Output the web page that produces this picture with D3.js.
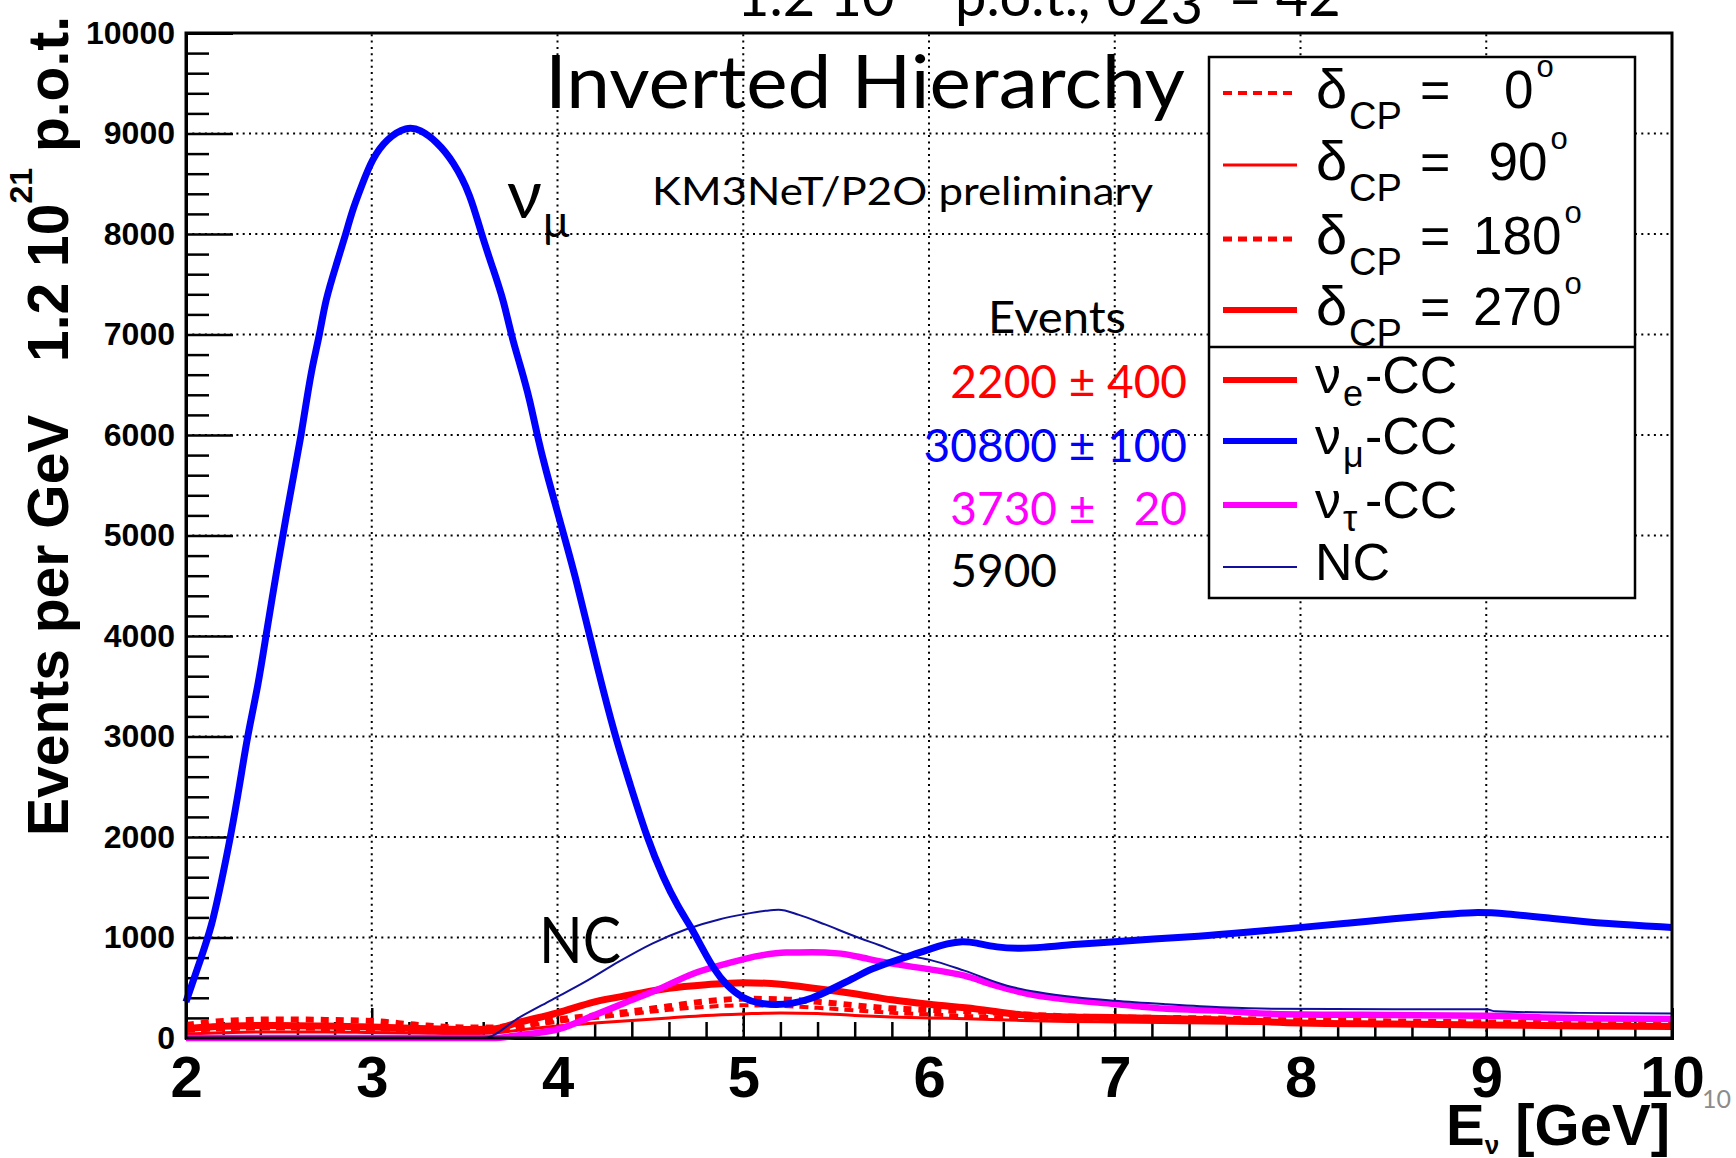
<!DOCTYPE html>
<html>
<head>
<meta charset="utf-8">
<script src="https://cdn.jsdelivr.net/npm/d3@7"></script>
<style>
  html, body { margin: 0; padding: 0; background: #fff; }
  svg { display: block; }
</style>
</head>
<body>
<script>
// ---- spectra: events per GeV vs neutrino energy [GeV] ----

// nu_mu CC
const numuE = [2.0, 2.08, 2.14, 2.19, 2.24, 2.29, 2.33, 2.39, 2.43, 2.49, 2.54, 2.58, 2.62, 2.65, 2.68,
  2.72, 2.75, 2.81, 2.86, 2.90, 2.95, 3.0, 3.08, 3.19, 3.26, 3.35, 3.44, 3.53, 3.59, 3.65,
  3.71, 3.75, 3.80, 3.85, 3.89, 3.94, 3.99, 4.05, 4.10, 4.15, 4.21, 4.31, 4.39, 4.48, 4.57,
  4.65, 4.72, 4.78, 4.84, 4.91, 5.0, 5.09, 5.18, 5.26, 5.37, 5.48, 5.59, 5.69, 5.8, 5.91,
  6.01, 6.1, 6.18, 6.25, 6.36, 6.5, 6.6, 6.8, 7.0, 7.2, 7.45, 7.7, 8.0, 8.25, 8.5,
  8.75, 8.93, 9.1, 9.35, 9.65, 10.0];
const numuN = [360, 790, 1120, 1550, 2000, 2530, 3000, 3520, 4000, 4670, 5200, 5600, 6000, 6355, 6690,
  7000, 7340, 7700, 8000, 8260, 8500, 8740, 8950, 9070, 9040, 8920, 8720, 8400, 8000, 7670,
  7340, 7000, 6690, 6360, 6000, 5630, 5300, 4900, 4560, 4180, 3720, 3000, 2530, 2000, 1590,
  1300, 1100, 890, 690, 520, 390, 340, 330, 340, 390, 490, 590, 690, 760, 825,
  890, 940, 965, 950, 900, 890, 900, 935, 955, 985, 1010, 1050, 1100, 1140, 1190,
  1225, 1255, 1240, 1190, 1135, 1100];

// neutral current
const ncE = [2.0, 3.6, 3.8, 3.97, 4.15, 4.33, 4.51, 4.69, 4.87, 5.0, 5.12, 5.19, 5.3, 5.44, 5.59, 5.73,
  5.87, 6.0, 6.19, 6.42, 6.59, 6.79, 7.0, 7.28, 7.57, 7.85, 8.5, 9.0, 9.05, 9.5, 10.0];
const ncN = [0, 0, 210, 380, 560, 760, 940, 1080, 1180, 1230, 1265, 1275, 1225, 1130, 1020, 925,
  830, 780, 670, 520, 455, 405, 370, 335, 305, 290, 285, 285, 265, 250, 245];

// nu_tau CC
const nutauE = [2.0, 3.65, 3.8, 4.01, 4.19, 4.37, 4.55, 4.73, 4.91, 5.09, 5.23, 5.37, 5.51, 5.62, 5.73,
  5.87, 6.0, 6.19, 6.36, 6.53, 6.71, 7.0, 7.28, 7.57, 7.85, 8.5, 9.0, 9.3, 10.0];
const nutauN = [0, 0, 30, 90, 220, 355, 490, 640, 740, 820, 850, 852, 842, 808, 765,
  720, 685, 620, 520, 440, 390, 338, 290, 272, 240, 228, 222, 205, 190];

// nu_e CC for four values of delta_CP
const nueE = [2.0, 2.25, 2.5, 2.75, 3.0, 3.25, 3.5, 3.65, 3.8, 4.0, 4.2, 4.4, 4.6, 4.8, 5.0,
  5.2, 5.4, 5.6, 5.8, 6.0, 6.25, 6.5, 6.75, 7.0, 7.5, 8.0, 8.5, 9.0, 9.5, 10.0];
const nueCP0 = [70, 90, 95, 90, 85, 75, 65, 70, 110, 160, 200, 240, 280, 310, 325,
  320, 300, 275, 250, 235, 215, 195, 180, 175, 165, 150, 140, 135, 125, 120];
const nueCP90 = [40, 55, 60, 60, 55, 50, 45, 50, 80, 120, 150, 175, 200, 225, 240,
  250, 245, 225, 210, 200, 190, 175, 165, 160, 150, 140, 130, 125, 115, 110];
const nueCP180 = [130, 175, 185, 180, 170, 130, 105, 105, 140, 185, 225, 265, 315, 365, 390,
  385, 360, 325, 295, 280, 265, 235, 215, 205, 195, 175, 165, 155, 145, 135];
const nueCP270 = [95, 120, 125, 120, 110, 95, 85, 90, 160, 250, 360, 430, 495, 530, 550,
  535, 490, 440, 380, 335, 290, 230, 210, 205, 185, 150, 140, 130, 120, 115];

// axis ticks
const xTicks = [2, 3, 4, 5, 6, 7, 8, 9, 10];
const yTicks = [0, 1000, 2000, 3000, 4000, 5000, 6000, 7000, 8000, 9000, 10000];

// event-count table
const countRows = [
  { n: "2200",  pm: "±", err: "400", color: "#ff0000" },
  { n: "30800", pm: "±", err: "100", color: "#0000ff" },
  { n: "3730",  pm: "±", err: "20",  color: "#ff00ff" },
  { n: "5900",  pm: "",  err: "",    color: "#000000" }
];

// legend entries
const cpLegend = [
  { deg: "0",   dash: "9,6", width: 4 },
  { deg: "90",  dash: null,  width: 3 },
  { deg: "180", dash: "9,6", width: 5 },
  { deg: "270", dash: null,  width: 6 }
];
const flavourLegend = [
  { sym: "ν", sub: "e", rest: "-CC", color: "#ff0000", width: 6 },
  { sym: "ν", sub: "μ", rest: "-CC", color: "#0000ff", width: 6 },
  { sym: "ν", sub: "τ", rest: "-CC", color: "#ff00ff", width: 6 },
  { sym: "NC", sub: "", rest: "", color: "#10109a", width: 2 }
];

// ---- drawing ----
const W = 1736, H = 1158;
const frame = { left: 186, right: 1672, top: 33, bottom: 1038 };
const HELV = "'Liberation Sans', Arial, Helvetica, sans-serif";
const SLIDE = "Lato, 'Open Sans', 'Noto Sans', sans-serif";

const svg = d3.select("body").append("svg")
  .attr("width", W).attr("height", H)
  .attr("viewBox", `0 0 ${W} ${H}`);

svg.append("rect").attr("width", W).attr("height", H).attr("fill", "#fff");

const x = d3.scaleLinear().domain([2, 10]).range([frame.left, frame.right]);
const y = d3.scaleLinear().domain([0, 10000]).range([frame.bottom, frame.top]);

// dotted grid
const grid = svg.append("g").attr("stroke", "#000").attr("stroke-width", 2)
  .attr("stroke-dasharray", "2,4.3");
grid.selectAll("line.gx").data(xTicks.slice(1, -1)).join("line")
  .attr("x1", d => x(d)).attr("x2", d => x(d))
  .attr("y1", frame.bottom).attr("y2", frame.top);
grid.selectAll("line.gy").data(yTicks.slice(1, -1)).join("line")
  .attr("x1", frame.left).attr("x2", frame.right)
  .attr("y1", d => y(d)).attr("y2", d => y(d));

// axes with inward ticks
const minorY = d3.range(200, 10000, 200).filter(v => v % 1000 !== 0);
const minorX = d3.range(2.2, 10, 0.2).filter(v => Math.abs(v - Math.round(v)) > 1e-6);

const yAxis = svg.append("g").attr("transform", `translate(${frame.left},0)`)
  .call(d3.axisLeft(y).tickValues(yTicks).tickSize(-47).tickPadding(11).tickFormat(d3.format("d")));
svg.append("g").attr("transform", `translate(${frame.left},0)`)
  .call(d3.axisLeft(y).tickValues(minorY).tickSize(-23).tickFormat(""))
  .call(g => g.select(".domain").remove());

const xAxis = svg.append("g").attr("transform", `translate(0,${frame.bottom})`)
  .call(d3.axisBottom(x).tickValues(xTicks).tickSize(-30).tickPadding(18).tickFormat(d3.format("d")));
svg.append("g").attr("transform", `translate(0,${frame.bottom})`)
  .call(d3.axisBottom(x).tickValues(minorX).tickSize(-16).tickFormat(""))
  .call(g => g.select(".domain").remove());

svg.selectAll(".tick line").attr("stroke", "#000").attr("stroke-width", 2.5);
svg.selectAll(".domain").attr("stroke", "#000").attr("stroke-width", 3);
yAxis.selectAll("text").attr("font-family", HELV).attr("font-weight", "bold")
  .attr("font-size", 32).attr("fill", "#000");
xAxis.selectAll("text").attr("font-family", HELV).attr("font-weight", "bold")
  .attr("font-size", 58).attr("fill", "#000");

// spectra
const smooth = d3.line().x(d => x(d[0])).y(d => y(d[1])).curve(d3.curveMonotoneX);
const soft = d3.line().x(d => x(d[0])).y(d => y(d[1])).curve(d3.curveBasis);
const pairs = (E, N) => E.map((e, i) => [e, N[i]]);

const curves = svg.append("g").attr("fill", "none")
  .attr("stroke-linejoin", "round");

const nueSeries = [
  { data: nueCP90,  width: 3, dash: null },
  { data: nueCP0,   width: 4, dash: "9,6" },
  { data: nueCP180, width: 6, dash: "8,7" },
  { data: nueCP270, width: 7, dash: null }
];
nueSeries.forEach(s => {
  curves.append("path").attr("d", smooth(pairs(nueE, s.data)))
    .attr("stroke", "#ff0000").attr("stroke-width", s.width)
    .attr("stroke-dasharray", s.dash);
});
curves.append("path").attr("d", smooth(pairs(nutauE, nutauN)))
  .attr("stroke", "#ff00ff").attr("stroke-width", 6.5);
curves.append("path").attr("d", smooth(pairs(ncE, ncN)))
  .attr("stroke", "#10109a").attr("stroke-width", 2);
curves.append("path").attr("d", soft(pairs(numuE, numuN)))
  .attr("stroke", "#0000ff").attr("stroke-width", 7);

// frame
svg.append("rect")
  .attr("x", frame.left).attr("y", frame.top)
  .attr("width", frame.right - frame.left).attr("height", frame.bottom - frame.top)
  .attr("fill", "none").attr("stroke", "#000").attr("stroke-width", 3);

// axis titles
const yl = svg.append("text")
  .attr("transform", "translate(68,836) rotate(-90)")
  .attr("font-family", HELV).attr("font-weight", "bold").attr("font-size", 57).attr("fill", "#000");
yl.append("tspan").attr("x", 0).text("Events per GeV");
yl.append("tspan").attr("x", 474).text("1.2 10");
yl.append("tspan").attr("dy", -36).attr("font-size", 32).text("21");
yl.append("tspan").attr("dy", 36).text(" p.o.t.");

const xl = svg.append("text")
  .attr("x", 1670).attr("y", 1145).attr("text-anchor", "end")
  .attr("font-family", HELV).attr("font-weight", "bold").attr("font-size", 58).attr("fill", "#000");
xl.append("tspan").text("E");
xl.append("tspan").attr("dy", 9).attr("font-size", 26).text("ν");
xl.append("tspan").attr("dy", -9).text(" [GeV]");

// slide heading (runs off the top edge)
const head = svg.append("text").attr("y", 16)
  .attr("font-family", SLIDE).attr("font-size", 56).attr("fill", "#000");
head.append("tspan").attr("x", 737).text("1.2 10");
head.append("tspan").attr("dy", -26).attr("font-size", 36).text("21");
head.append("tspan").attr("x", 955).attr("dy", 26).text("p.o.t., θ");
head.append("tspan").attr("x", 1138).attr("dy", 8).text("23");
head.append("tspan").attr("x", 1229).attr("dy", -8).text("= 42°");

// annotations
svg.append("text").attr("x", 545).attr("y", 108)
  .attr("font-family", SLIDE).attr("font-size", 74).attr("fill", "#000")
  .attr("textLength", 640).attr("lengthAdjust", "spacingAndGlyphs")
  .text("Inverted Hierarchy");
svg.append("text").attr("x", 652).attr("y", 205)
  .attr("font-family", SLIDE).attr("font-size", 39).attr("fill", "#000")
  .attr("textLength", 501).attr("lengthAdjust", "spacingAndGlyphs")
  .text("KM3NeT/P2O preliminary");

const numuLbl = svg.append("text").attr("font-family", SLIDE).attr("fill", "#000");
numuLbl.append("tspan").attr("x", 507).attr("y", 218).attr("font-size", 68).text("ν");
numuLbl.append("tspan").attr("x", 543).attr("y", 237).attr("font-size", 44).text("μ");

svg.append("text").attr("x", 539).attr("y", 963)
  .attr("font-family", SLIDE).attr("font-size", 64).attr("fill", "#000")
  .attr("textLength", 82).attr("lengthAdjust", "spacingAndGlyphs")
  .text("NC");

// event-count table
svg.append("text").attr("x", 1057).attr("y", 333).attr("text-anchor", "middle")
  .attr("font-family", SLIDE).attr("font-size", 45).attr("fill", "#000")
  .attr("textLength", 138).attr("lengthAdjust", "spacingAndGlyphs").text("Events");
const rowBase = [398, 462, 525, 587];
countRows.forEach((r, i) => {
  const g = svg.append("g").attr("font-family", SLIDE).attr("font-size", 46).attr("fill", r.color);
  g.append("text").attr("x", 1057).attr("y", rowBase[i]).attr("text-anchor", "end").text(r.n);
  if (r.pm) g.append("text").attr("x", 1082).attr("y", rowBase[i]).attr("text-anchor", "middle").text(r.pm);
  if (r.err) g.append("text").attr("x", 1187).attr("y", rowBase[i]).attr("text-anchor", "end").text(r.err);
});

// legend
const leg = { x0: 1209, x1: 1635, y0: 57, y1: 598, split: 347 };
const lg = svg.append("g");
lg.append("rect").attr("x", leg.x0).attr("y", leg.y0)
  .attr("width", leg.x1 - leg.x0).attr("height", leg.y1 - leg.y0)
  .attr("fill", "#fff").attr("stroke", "#000").attr("stroke-width", 2.5);
lg.append("line").attr("x1", leg.x0).attr("x2", leg.x1)
  .attr("y1", leg.split).attr("y2", leg.split)
  .attr("stroke", "#000").attr("stroke-width", 2.5);

const cpRowY = [93, 165, 239, 310];
cpLegend.forEach((r, i) => {
  const yy = cpRowY[i];
  lg.append("line").attr("x1", 1223).attr("x2", 1297).attr("y1", yy).attr("y2", yy)
    .attr("stroke", "#ff0000").attr("stroke-width", r.width).attr("stroke-dasharray", r.dash);
  const base = yy + 15;
  const t = lg.append("text").attr("font-family", HELV).attr("fill", "#000");
  t.append("tspan").attr("x", 1316).attr("y", base).attr("font-size", 56).text("δ");
  t.append("tspan").attr("x", 1349).attr("y", base + 21).attr("font-size", 38).text("CP");
  t.append("tspan").attr("x", 1420).attr("y", base).attr("font-size", 52).text("=");
  // the angle sits after padding spaces, so shorter values start further right
  const v = lg.append("text").attr("font-family", HELV).attr("fill", "#000");
  v.append("tspan").attr("x", 1473 + (3 - r.deg.length) * 15.5).attr("y", base)
    .attr("font-size", 53).text(r.deg);
  v.append("tspan").attr("dx", 3).attr("y", base - 31).attr("font-size", 31).text("o");
});

const flRowY = [380, 441, 505, 567];
flavourLegend.forEach((r, i) => {
  const yy = flRowY[i];
  lg.append("line").attr("x1", 1223).attr("x2", 1297).attr("y1", yy).attr("y2", yy)
    .attr("stroke", r.color).attr("stroke-width", r.width);
  const base = yy + 13;
  const t = lg.append("text").attr("font-family", HELV).attr("font-size", 52).attr("fill", "#000");
  t.append("tspan").attr("x", 1315).attr("y", base).text(r.sym);
  if (r.sub) {
    t.append("tspan").attr("x", 1343).attr("y", base + 13).attr("font-size", 36).text(r.sub);
    t.append("tspan").attr("x", 1365).attr("y", base).text(r.rest);
  }
});

// page number
svg.append("text").attr("x", 1702).attr("y", 1108)
  .attr("font-family", SLIDE).attr("font-size", 25).attr("fill", "#8c8c8c").text("10");
</script>
</body>
</html>
